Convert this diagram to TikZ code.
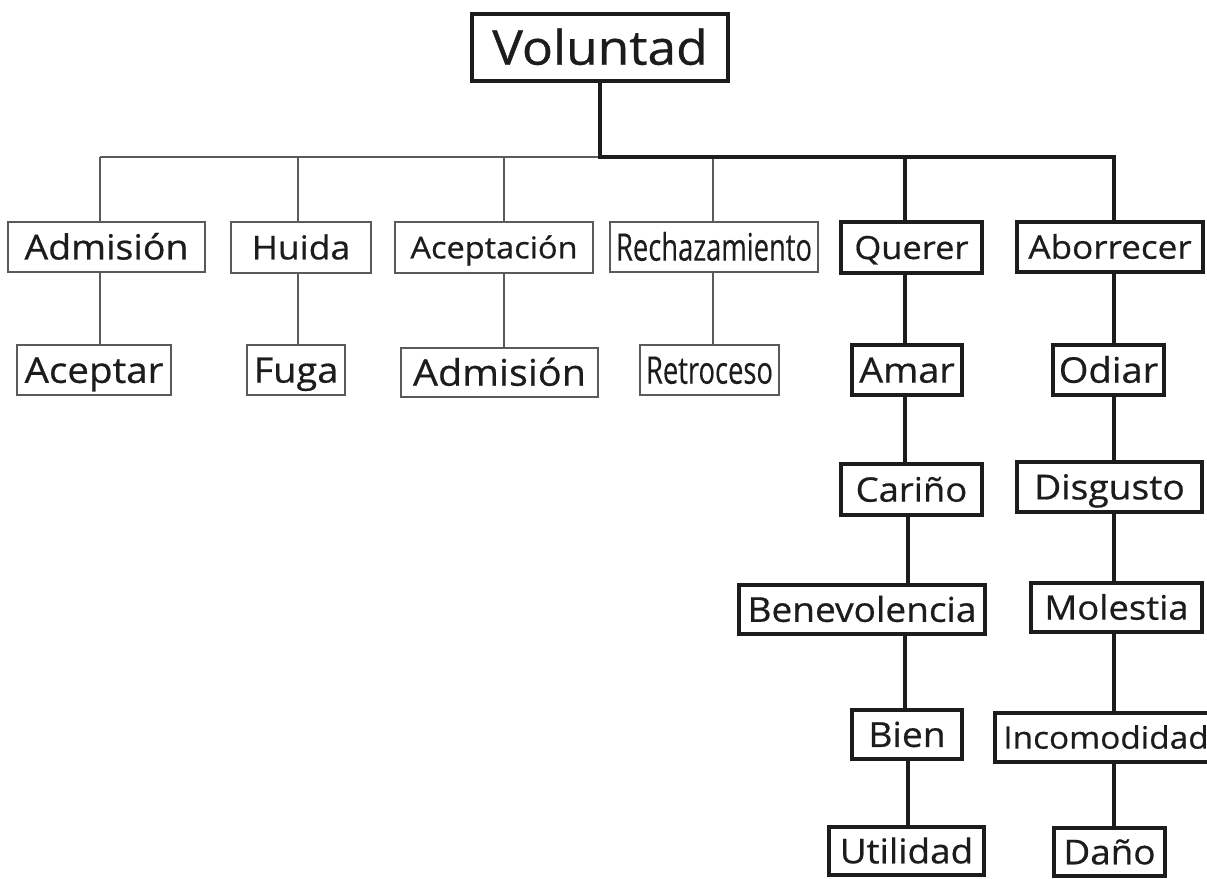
\documentclass[tikz,border=0pt]{standalone}
\usepackage{fontspec}
\setmainfont{Open Sans}[FakeStretch=1.08, FakeBold=0.6]
\newfontfamily\condfont{Open Sans}[FakeStretch=0.72, FakeBold=0.3]
\definecolor{ink}{HTML}{1C1C1C}
\definecolor{thingray}{HTML}{5A5A5A}
\tikzset{
  box/.style={rectangle, inner sep=0pt, text=ink},
  thinbox/.style={box, draw=thingray, line width=1.8pt},
  thickbox/.style={box, draw=ink, line width=4pt},
  thinline/.style={draw=thingray, line width=1.8pt},
  thickline/.style={draw=ink, line width=4pt, line join=miter},
  fsz/.style={font=\fontsize{#1}{#1}\selectfont, text height=#1pt*0.72, text depth=0pt},
  csz/.style={font=\condfont\fontsize{#1}{#1}\selectfont, text height=#1pt*0.72, text depth=0pt},
}
\begin{document}
\begin{tikzpicture}[x=1pt,y=-1pt]
\useasboundingbox (0,0) rectangle (1207,878);
\fill[white] (0,0) rectangle (1207,878);

% root
\node[thickbox, fsz=47.7, minimum width=256, minimum height=67] (vol) at (600,47.5) {Voluntad};

% first level
\node[thinbox, fsz=34.7, minimum width=197, minimum height=50] (adm1) at (106.5,247) {Admisión};
\node[thinbox, fsz=32.9, minimum width=140, minimum height=51] (hui) at (301,247.5) {Huida};
\node[thinbox, fsz=30.1, minimum width=198, minimum height=51] (acep) at (494,247.5) {Aceptación};
\node[thinbox, csz=38, minimum width=208, minimum height=50] (rech) at (714,247) {Rechazamiento};
\node[thickbox, fsz=31.9, minimum width=141, minimum height=51] (que) at (911.5,247.5) {Querer};
\node[thickbox, fsz=32.5, minimum width=186, minimum height=50] (abo) at (1110,247) {Aborrecer};

% second level
\node[thinbox, fsz=35.7, minimum width=154, minimum height=50] (acept) at (94,370) {Aceptar};
\node[thinbox, fsz=35.1, minimum width=98, minimum height=50] (fuga) at (296,370) {Fuga};
\node[thinbox, fsz=36.6, minimum width=197, minimum height=49] (adm2) at (499.5,372.5) {Admisión};
\node[thinbox, csz=38, minimum width=139, minimum height=50] (retro) at (709.5,370) {Retroceso};
\node[thickbox, fsz=35, minimum width=110, minimum height=50] (amar) at (907,370) {Amar};
\node[thickbox, fsz=35.3, minimum width=111, minimum height=50] (odiar) at (1108.5,370) {Odiar};

% chains below Querer and Aborrecer
\node[thickbox, fsz=33.7, minimum width=141, minimum height=51] (car) at (911.5,489.5) {Cariño};
\node[thickbox, fsz=34.4, minimum width=185, minimum height=50] (dis) at (1109.5,487) {Disgusto};
\node[thickbox, fsz=34.3, minimum width=246, minimum height=49] (bene) at (862,609.5) {Benevolencia};
\node[thickbox, fsz=33.7, minimum width=171, minimum height=49] (mol) at (1116.5,607.5) {Molestia};
\node[thickbox, fsz=34.5, minimum width=110, minimum height=49] (bien) at (907,734.5) {Bien};
\node[thickbox, fsz=30.9, minimum width=222, minimum height=49] (inc) at (1106,737.5) {Incomodidad};
\node[thickbox, fsz=34.1, minimum width=155, minimum height=48] (util) at (906.5,851) {Utilidad};
\node[thickbox, fsz=34.1, minimum width=111, minimum height=48] (dano) at (1109.5,852) {Daño};

% junctions on the horizontal bus
\coordinate (j0) at (600,157);
\coordinate (j1) at (100,157);
\coordinate (j2) at (298,157);
\coordinate (j3) at (504,157);
\coordinate (j4) at (713,157);
\coordinate (j5) at (905,157);
\coordinate (j6) at (1114,157);
\coordinate (j5b) at (908,157);

% thin branches
\draw[thinline] (j1) -- (j0);
\draw[thinline] (j1) -- (j1 |- adm1.north);
\draw[thinline] (j2) -- (j2 |- hui.north);
\draw[thinline] (j3) -- (j3 |- acep.north);
\draw[thinline] (j4) -- (j4 |- rech.north);
\draw[thinline] (j1 |- adm1.south) -- (j1 |- acept.north);
\draw[thinline] (j2 |- hui.south) -- (j2 |- fuga.north);
\draw[thinline] (j3 |- acep.south) -- (j3 |- adm2.north);
\draw[thinline] (j4 |- rech.south) -- (j4 |- retro.north);

% thick branches
\draw[thickline] (vol.south) -- (j0) -- (j6) -- (j6 |- abo.north);
\draw[thickline] (j5) -- (j5 |- que.north);
\draw[thickline] (j5 |- que.south) -- (j5 |- amar.north);
\draw[thickline] (j5 |- amar.south) -- (j5 |- car.north);
\draw[thickline] (j5b |- car.south) -- (j5b |- bene.north);
\draw[thickline] (j5 |- bene.south) -- (j5 |- bien.north);
\draw[thickline] (j5b |- bien.south) -- (j5b |- util.north);
\draw[thickline] (j6 |- abo.south) -- (j6 |- odiar.north);
\draw[thickline] (j6 |- odiar.south) -- (j6 |- dis.north);
\draw[thickline] (j6 |- dis.south) -- (j6 |- mol.north);
\draw[thickline] (j6 |- mol.south) -- (j6 |- inc.north);
\draw[thickline] (j6 |- inc.south) -- (j6 |- dano.north);
\end{tikzpicture}
\end{document}
